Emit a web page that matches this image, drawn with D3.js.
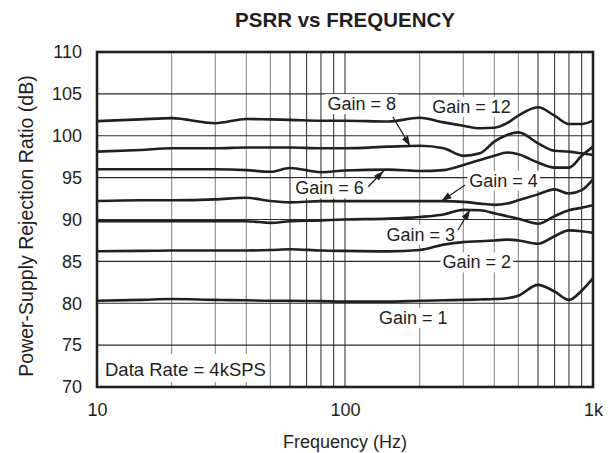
<!DOCTYPE html>
<meta charset="utf-8">

<style>
body { margin: 0; background: #fff; }
svg text {
  font-family: "Liberation Sans", Arial, Helvetica, sans-serif;
  fill: #231f20;
}
</style>

<svg class="chart" width="615" height="453"></svg>

<script src="https://d3js.org/d3.v7.min.js"></script>

<script>

// frequency points (Hz) shared by every curve
var freq = [10, 15, 20, 30, 40, 50, 60, 80, 100, 150, 200, 250, 300, 350, 400, 450, 500, 600, 700, 800, 900, 1000];

// PSRR (dB)
var gain12 = [101.75, 101.95, 102.1, 101.5, 102.0, 101.95, 101.9, 101.8, 101.8, 101.7, 102.15, 101.6, 101.2, 100.9, 100.95, 101.5, 102.4, 103.4, 102.4, 101.4, 101.4, 101.8];
var gain8  = [98.1, 98.3, 98.5, 98.5, 98.6, 98.6, 98.6, 98.5, 98.5, 98.7, 98.8, 98.5, 97.6, 97.9, 99.3, 100.1, 100.4, 99.1, 98.2, 98.1, 97.9, 97.7];
var gain6  = [96.0, 96.0, 96.0, 96.0, 95.9, 95.7, 96.15, 95.65, 95.85, 95.95, 95.8, 95.9, 96.5, 97.1, 97.6, 98.0, 97.8, 96.8, 96.2, 96.2, 97.6, 98.7];
var gain4  = [92.2, 92.3, 92.3, 92.4, 92.6, 92.2, 92.05, 92.2, 92.2, 92.2, 92.2, 92.2, 92.1, 91.9, 91.75, 91.9, 92.3, 93.0, 93.6, 93.1, 93.5, 94.8];
var gain3  = [89.8, 89.8, 89.8, 89.8, 89.8, 89.6, 89.8, 89.9, 90.0, 90.1, 90.3, 90.6, 91.15, 91.1, 90.75, 90.4, 90.1, 89.5, 90.4, 91.1, 91.4, 91.7];
var gain2  = [86.2, 86.25, 86.3, 86.3, 86.3, 86.35, 86.45, 86.3, 86.25, 86.2, 86.35, 87.0, 87.3, 87.4, 87.5, 87.6, 87.5, 87.1, 88.0, 88.7, 88.6, 88.4];
var gain1  = [80.3, 80.4, 80.5, 80.4, 80.35, 80.3, 80.3, 80.25, 80.2, 80.2, 80.3, 80.35, 80.4, 80.45, 80.5, 80.6, 80.9, 82.2, 81.4, 80.4, 81.5, 83.0];

var series = [gain12, gain8, gain6, gain4, gain3, gain2, gain1];

// axis ticks
var yTicks = [70, 75, 80, 85, 90, 95, 100, 105, 110];
var xTicks = [10, 100, 1000];
var xTickLabels = ["10", "100", "1k"];

// curve labels: [text, freq, dB at baseline]
var labels = [
  ["Gain = 12", 324, 102.7],
  ["Gain = 8", 116.8, 103.07],
  ["Gain = 6", 86.6, 93.0],
  ["Gain = 4", 436, 93.92],
  ["Gain = 3", 202, 87.47],
  ["Gain = 2", 340, 84.17],
  ["Gain = 1", 188.6, 77.52]
];

// arrows: [from freq, from dB, to freq, to dB]
var arrows = [
  [156, 102.24, 183, 98.78],
  [124, 93.92, 143, 95.79],
  [305, 94.12, 245, 92.21],
  [285.6, 88.75, 319, 91.13]
];

var ink = "#231f20";
var svg = d3.select("svg.chart");

var x = d3.scaleLog().domain([10, 1000]).range([97, 593]);
var y = d3.scaleLinear().domain([70, 110]).range([387, 52]);

svg.append("defs").append("marker")
    .attr("id", "head")
    .attr("markerUnits", "userSpaceOnUse")
    .attr("viewBox", "0 -4 10 8")
    .attr("refX", 10)
    .attr("refY", 0)
    .attr("markerWidth", 11)
    .attr("markerHeight", 8)
    .attr("orient", "auto")
  .append("path")
    .attr("d", "M0,-3.5L10,0L0,3.5Z")
    .attr("fill", ink);

var gridG = svg.append("g");
var maskG = svg.append("g");
var curveG = svg.append("g");
var annoG = svg.append("g");

// vertical grid
gridG.selectAll("line.v")
  .data(x.ticks())
  .enter().append("line")
    .attr("x1", function(d) { return x(d); })
    .attr("x2", function(d) { return x(d); })
    .attr("y1", y(70))
    .attr("y2", y(110))
    .attr("stroke", function(d) {
      var m = d / Math.pow(10, Math.floor(Math.log10(d) + 1e-9));
      return (m >= 2 && m <= 5.01) ? "#8c8c8c" : "#3a3a3a";
    })
    .attr("stroke-width", 1.1);

// horizontal grid
gridG.selectAll("line.h")
  .data(yTicks)
  .enter().append("line")
    .attr("x1", x(10))
    .attr("x2", x(1000))
    .attr("y1", function(d) { return y(d); })
    .attr("y2", function(d) { return y(d); })
    .attr("stroke", "#2a2a2a")
    .attr("stroke-width", 1.1);

// curves
var line = d3.line()
  .x(function(d, i) { return x(freq[i]); })
  .y(function(d) { return y(d); })
  .curve(d3.curveMonotoneX);

curveG.selectAll("path")
  .data(series)
  .enter().append("path")
    .attr("d", line)
    .attr("fill", "none")
    .attr("stroke", ink)
    .attr("stroke-width", 2.6);

// arrows
annoG.selectAll("line.arrow")
  .data(arrows)
  .enter().append("line")
    .attr("x1", function(d) { return x(d[0]); })
    .attr("y1", function(d) { return y(d[1]); })
    .attr("x2", function(d) { return x(d[2]); })
    .attr("y2", function(d) { return y(d[3]); })
    .attr("stroke", ink)
    .attr("stroke-width", 1.3)
    .attr("marker-end", "url(#head)");

// white box behind a text
function boxed(t, padL, padR, padT, padB) {
  var b = t.node().getBBox();
  maskG.append("rect")
    .attr("x", b.x - padL)
    .attr("y", b.y - padT)
    .attr("width", b.width + padL + padR)
    .attr("height", b.height + padT + padB)
    .attr("fill", "#fff");
}

labels.forEach(function(l) {
  var t = annoG.append("text")
    .attr("x", x(l[1]))
    .attr("y", y(l[2]))
    .attr("text-anchor", "middle")
    .style("font-size", "18px")
    .text(l[0]);
  boxed(t, 2, 2, 0, 0);
});

var dr = annoG.append("text")
  .attr("x", x(10.77))
  .attr("y", y(71.31))
  .style("font-size", "18.5px")
  .text("Data Rate = 4kSPS");
boxed(dr, 8, 2, 5, 2);

// frame
svg.append("rect")
  .attr("x", x(10))
  .attr("y", y(110))
  .attr("width", x(1000) - x(10))
  .attr("height", y(70) - y(110))
  .attr("fill", "none")
  .attr("stroke", ink)
  .attr("stroke-width", 2.6);

// axes
var yAxis = svg.append("g")
  .attr("transform", "translate(" + x(10) + ",0)")
  .call(d3.axisLeft(y).tickValues(yTicks).tickSize(0).tickPadding(15));
yAxis.select(".domain").remove();
yAxis.selectAll("text").style("font-size", "18px").attr("fill", ink);

var xAxis = svg.append("g")
  .attr("transform", "translate(0," + y(70) + ")")
  .call(d3.axisBottom(x).tickValues(xTicks).tickSize(0).tickPadding(16)
    .tickFormat(function(d, i) { return xTickLabels[i]; }));
xAxis.select(".domain").remove();
xAxis.selectAll("text").style("font-size", "18px").attr("fill", ink);

// titles
svg.append("text")
  .attr("x", (x(10) + x(1000)) / 2)
  .attr("y", 27)
  .attr("text-anchor", "middle")
  .style("font-size", "20.5px")
  .style("font-weight", "bold")
  .text("PSRR vs FREQUENCY");

svg.append("text")
  .attr("x", (x(10) + x(1000)) / 2)
  .attr("y", 448)
  .attr("text-anchor", "middle")
  .style("font-size", "18px")
  .text("Frequency (Hz)");

svg.append("text")
  .attr("transform", "translate(33,226) rotate(-90)")
  .attr("text-anchor", "middle")
  .style("font-size", "19.5px")
  .text("Power-Supply Rejection Ratio (dB)");

</script>
